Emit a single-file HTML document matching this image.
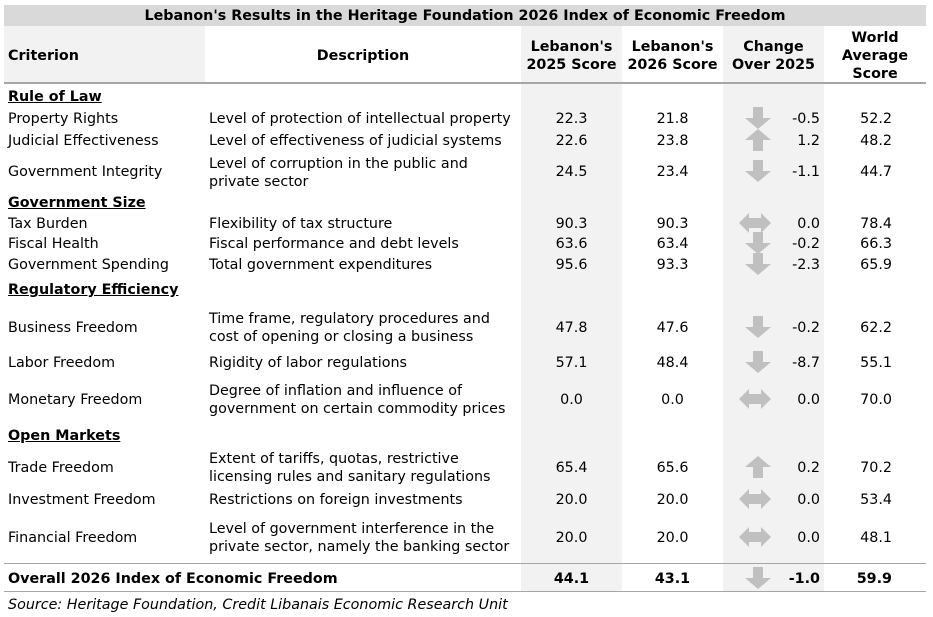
<!DOCTYPE html>
<html><head><meta charset="utf-8"><style>
*{margin:0;padding:0;box-sizing:border-box}
body{width:933px;height:617px;background:#fff;position:relative;overflow:hidden;font-family:"DejaVu Sans","Liberation Sans",sans-serif;font-size:14.3px;color:#000}
.a{position:absolute;white-space:nowrap;line-height:18px;margin-top:1px}
.b{font-weight:bold}
.u{font-weight:bold;text-decoration:underline}
.c{text-align:center}
.r{text-align:right}
.bg{position:absolute;background:#f2f2f2}
svg{position:absolute}
</style></head><body>
<div class="bg" style="left:4px;top:5px;width:922px;height:21px;background:#d9d9d9"></div>
<div class="bg" style="left:4px;top:26px;width:201px;height:57px"></div>
<div class="bg" style="left:521px;top:26px;width:101px;height:566px"></div>
<div class="bg" style="left:723px;top:26px;width:101px;height:566px"></div>
<div style="position:absolute;left:4px;top:82px;width:922px;height:2px;background:#a6a6a6"></div>
<div style="position:absolute;left:4px;top:563px;width:922px;height:1px;background:#a6a6a6"></div>
<div style="position:absolute;left:4px;top:591px;width:922px;height:1px;background:#a6a6a6"></div>

<div class="a b c" style="left:4px;top:6px;width:922px">Lebanon's Results in the Heritage Foundation 2026 Index of Economic Freedom</div>
<div class="a b" style="left:8px;top:46px">Criterion</div>
<div class="a b c" style="left:205px;top:46px;width:316px">Description</div>
<div class="a b c" style="left:521px;top:37px;width:101px">Lebanon's<br>2025 Score</div>
<div class="a b c" style="left:622px;top:37px;width:101px">Lebanon's<br>2026 Score</div>
<div class="a b c" style="left:723px;top:37px;width:101px">Change<br>Over 2025</div>
<div class="a b c" style="left:824px;top:28px;width:102px">World<br>Average<br>Score</div>

<div class="a u" style="left:8px;top:87px">Rule of Law</div>
<div class="a u" style="left:8px;top:193px">Government Size</div>
<div class="a u" style="left:8px;top:280px">Regulatory Efficiency</div>
<div class="a u" style="left:8px;top:426px">Open Markets</div>

<div class="a" style="left:8px;top:109px">Property Rights</div>
<div class="a" style="left:209px;top:109px">Level of protection of intellectual property</div>
<div class="a" style="left:8px;top:131px">Judicial Effectiveness</div>
<div class="a" style="left:209px;top:131px">Level of effectiveness of judicial systems</div>
<div class="a" style="left:8px;top:162px">Government Integrity</div>
<div class="a" style="left:209px;top:154px">Level of corruption in the public and<br>private sector</div>
<div class="a" style="left:8px;top:214px">Tax Burden</div>
<div class="a" style="left:209px;top:214px">Flexibility of tax structure</div>
<div class="a" style="left:8px;top:234px">Fiscal Health</div>
<div class="a" style="left:209px;top:234px">Fiscal performance and debt levels</div>
<div class="a" style="left:8px;top:255px">Government Spending</div>
<div class="a" style="left:209px;top:255px">Total government expenditures</div>
<div class="a" style="left:8px;top:318px">Business Freedom</div>
<div class="a" style="left:209px;top:309px">Time frame, regulatory procedures and<br>cost of opening or closing a business</div>
<div class="a" style="left:8px;top:353px">Labor Freedom</div>
<div class="a" style="left:209px;top:353px">Rigidity of labor regulations</div>
<div class="a" style="left:8px;top:390px">Monetary Freedom</div>
<div class="a" style="left:209px;top:381px">Degree of inflation and influence of<br>government on certain commodity prices</div>
<div class="a" style="left:8px;top:458px">Trade Freedom</div>
<div class="a" style="left:209px;top:449px">Extent of tariffs, quotas, restrictive<br>licensing rules and sanitary regulations</div>
<div class="a" style="left:8px;top:490px">Investment Freedom</div>
<div class="a" style="left:209px;top:490px">Restrictions on foreign investments</div>
<div class="a" style="left:8px;top:528px">Financial Freedom</div>
<div class="a" style="left:209px;top:519px">Level of government interference in the<br>private sector, namely the banking sector</div>
<div class="a b" style="left:8px;top:569px">Overall 2026 Index of Economic Freedom</div>
<div class="a" style="left:8px;top:595px;font-style:italic">Source: Heritage Foundation, Credit Libanais Economic Research Unit</div>

<div id="nums"></div>
<script>
var rows=[[118,"22.3","21.8","-0.5","52.2","d"],[140,"22.6","23.8","1.2","48.2","u"],[171,"24.5","23.4","-1.1","44.7","d"],
[223,"90.3","90.3","0.0","78.4","h"],[243,"63.6","63.4","-0.2","66.3","d"],[264,"95.6","93.3","-2.3","65.9","d"],
[327,"47.8","47.6","-0.2","62.2","d"],[362,"57.1","48.4","-8.7","55.1","d"],[399,"0.0","0.0","0.0","70.0","h"],
[467,"65.4","65.6","0.2","70.2","u"],[499,"20.0","20.0","0.0","53.4","h"],[537,"20.0","20.0","0.0","48.1","h"],[578,"44.1","43.1","-1.0","59.9","d",1]];
var h="";
rows.forEach(function(r){var t=r[0]-9,b=r[6]?"font-weight:bold;":"";
h+='<div class="a c" style="'+b+'left:521px;top:'+t+'px;width:101px">'+r[1]+'</div>';
h+='<div class="a c" style="'+b+'left:622px;top:'+t+'px;width:101px">'+r[2]+'</div>';
h+='<div class="a r" style="'+b+'left:723px;top:'+t+'px;width:97px">'+r[3]+'</div>';
h+='<div class="a r" style="'+b+'left:824px;top:'+t+'px;width:68px">'+r[4]+'</div>';
var cy=r[0];
if(r[5]=="d")h+='<svg style="left:745px;top:'+(cy-11)+'px" width="26" height="22"><path d="M8 0H18V11H26L13 22L0 11H8Z" fill="#c0c0c0"/></svg>';
if(r[5]=="u")h+='<svg style="left:745px;top:'+(cy-11)+'px" width="26" height="22"><path d="M8 22H18V11H26L13 0L0 11H8Z" fill="#c0c0c0"/></svg>';
if(r[5]=="h")h+='<svg style="left:739px;top:'+(cy-10)+'px" width="32" height="20"><path d="M0 10L10 0V5H22V0L32 10L22 20V15H10V20Z" fill="#c0c0c0"/></svg>';
});
document.getElementById("nums").innerHTML=h;
</script>
</body></html>
